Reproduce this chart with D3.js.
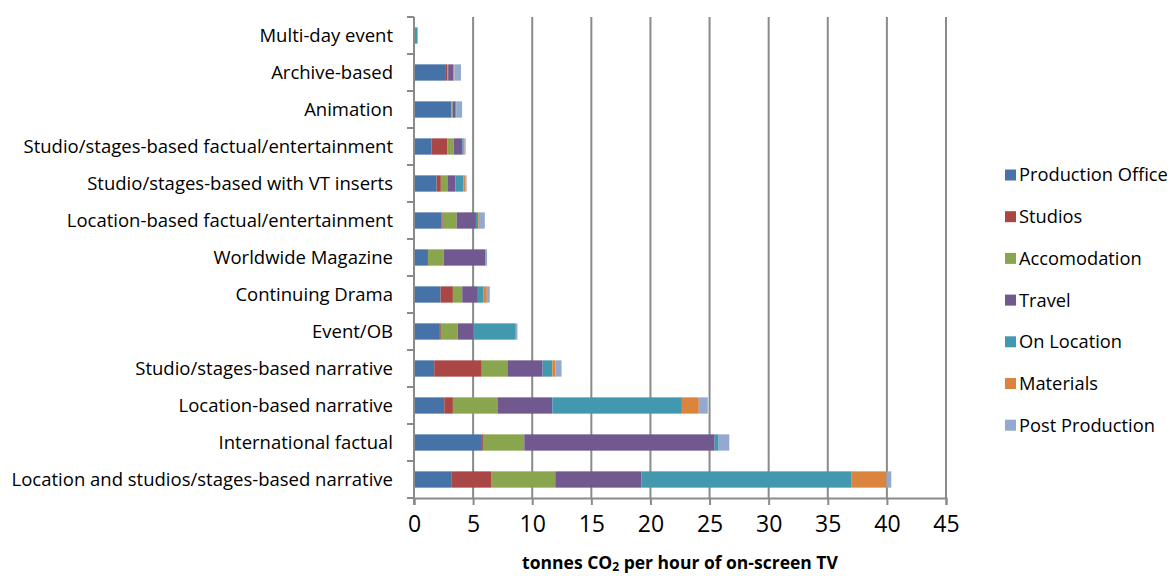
<!DOCTYPE html>
<html>
<head>
<meta charset="utf-8">
<script src="https://cdn.jsdelivr.net/npm/d3@7"></script>
<style>
  html, body { margin: 0; padding: 0; background: #fff; }
  svg { display: block; font-family: "Open Sans", "Noto Sans", sans-serif; }
</style>
</head>
<body>
<svg id="chart" width="1172" height="576"></svg>
<script>
// Programme genres, top to bottom
const categories = [
  "Multi-day event",
  "Archive-based",
  "Animation",
  "Studio/stages-based factual/entertainment",
  "Studio/stages-based with VT inserts",
  "Location-based factual/entertainment",
  "Worldwide Magazine",
  "Continuing Drama",
  "Event/OB",
  "Studio/stages-based narrative",
  "Location-based narrative",
  "International factual",
  "Location and studios/stages-based narrative"
];

const seriesNames = ["Production Office", "Studios", "Accomodation", "Travel", "On Location", "Materials", "Post Production"];

// tonnes CO2 per hour, one value per genre (same order as categories)
const productionOffice = [0.08, 2.70, 3.15, 1.49, 1.91, 2.33, 1.18, 2.25, 2.13, 1.71, 2.56, 5.68, 3.15];
const studios          = [0.00, 0.11, 0.00, 1.32, 0.36, 0.10, 0.00, 1.04, 0.14, 4.02, 0.73, 0.15, 3.37];
const accomodation     = [0.00, 0.08, 0.12, 0.56, 0.56, 1.18, 1.33, 0.79, 1.43, 2.17, 3.77, 3.50, 5.43];
const travel           = [0.00, 0.45, 0.25, 0.73, 0.67, 1.63, 3.52, 1.32, 1.33, 2.98, 4.64, 16.10, 7.30];
const onLocation       = [0.22, 0.03, 0.08, 0.05, 0.67, 0.20, 0.05, 0.45, 3.52, 0.82, 10.96, 0.34, 17.77];
const materials        = [0.00, 0.05, 0.00, 0.12, 0.17, 0.13, 0.00, 0.31, 0.08, 0.25, 1.43, 0.00, 2.95];
const postProduction   = [0.03, 0.55, 0.47, 0.10, 0.11, 0.42, 0.10, 0.25, 0.12, 0.53, 0.76, 0.90, 0.40];

const xTicks = [0, 5, 10, 15, 20, 25, 30, 35, 40, 45];
const colors = ["#4572A7", "#AA4643", "#89A54E", "#71588F", "#4198AF", "#DB843D", "#93A9CF"];

const seriesValues = [productionOffice, studios, accomodation, travel, onLocation, materials, postProduction];
const rows = categories.map((c, i) => {
  const r = { category: c };
  seriesNames.forEach((s, k) => { r[s] = seriesValues[k][i]; });
  return r;
});

const svg = d3.select("#chart");
const plot = { left: 414, right: 946, top: 17, bottom: 498 };

const x = d3.scaleLinear().domain([0, 45]).range([plot.left, plot.right]);
const y = d3.scaleBand().domain(categories).range([plot.top, plot.bottom]).paddingInner(0.56).paddingOuter(0.28);

// vertical gridlines
svg.append("g").selectAll("line")
  .data(xTicks.filter(t => t > 0))
  .join("line")
  .attr("x1", d => x(d)).attr("x2", d => x(d))
  .attr("y1", plot.top).attr("y2", plot.bottom)
  .attr("stroke", "#8a8a8a").attr("stroke-width", 2);

// stacked bars
const stack = d3.stack().keys(seriesNames)(rows);
svg.append("g").selectAll("g")
  .data(stack)
  .join("g")
  .attr("fill", (d, i) => colors[i])
  .selectAll("rect")
  .data(d => d)
  .join("rect")
  .attr("x", d => x(d[0]))
  .attr("width", d => Math.max(0, x(d[1]) - x(d[0])))
  .attr("y", d => y(d.data.category))
  .attr("height", y.bandwidth());

// x axis
const xAxis = svg.append("g")
  .attr("transform", `translate(0,${plot.bottom})`)
  .call(d3.axisBottom(x).tickValues(xTicks).tickSize(7).tickPadding(11).tickFormat(d3.format("d")));
xAxis.select(".domain").attr("stroke", "#8a8a8a").attr("stroke-width", 2);
xAxis.selectAll(".tick line").attr("stroke", "#8a8a8a").attr("stroke-width", 2);
xAxis.selectAll(".tick text").attr("font-size", 23).attr("fill", "#000")
  .attr("font-family", "'Open Sans', sans-serif");

// y axis: line with ticks between categories
const yAxisG = svg.append("g");
yAxisG.append("line")
  .attr("x1", plot.left).attr("x2", plot.left)
  .attr("y1", plot.top).attr("y2", plot.bottom + 7)
  .attr("stroke", "#8a8a8a").attr("stroke-width", 2);
const step = y.step();
yAxisG.selectAll("line.tk")
  .data(d3.range(categories.length + 1))
  .join("line").attr("class", "tk")
  .attr("x1", plot.left - 7).attr("x2", plot.left)
  .attr("y1", i => plot.top + i * step).attr("y2", i => plot.top + i * step)
  .attr("stroke", "#8a8a8a").attr("stroke-width", 2);
yAxisG.selectAll("text")
  .data(categories)
  .join("text")
  .attr("x", 393)
  .attr("y", d => y(d) + y.bandwidth() / 2)
  .attr("dy", "0.35em")
  .attr("text-anchor", "end")
  .attr("font-size", 18.5)
  .attr("fill", "#000")
  .text(d => d);

// axis title
const title = svg.append("text")
  .attr("x", 680).attr("y", 569)
  .attr("text-anchor", "middle")
  .attr("font-size", 17.5).attr("font-weight", "bold").attr("fill", "#000");
title.append("tspan").text("tonnes CO");
title.append("tspan").attr("font-size", 12).attr("dy", 2).text("2");
title.append("tspan").attr("dy", -2).text(" per hour of on-screen TV");

// legend
const legend = svg.append("g").selectAll("g")
  .data(seriesNames)
  .join("g")
  .attr("transform", (d, i) => `translate(1005,${175 + i * 41.7})`);
legend.append("rect")
  .attr("x", 0).attr("y", -5.5).attr("width", 11).attr("height", 11)
  .attr("fill", (d, i) => colors[i]);
legend.append("text")
  .attr("x", 14).attr("y", 0).attr("dy", "0.35em")
  .attr("font-size", 18.3).attr("fill", "#000")
  .text(d => d);
</script>
</body>
</html>
